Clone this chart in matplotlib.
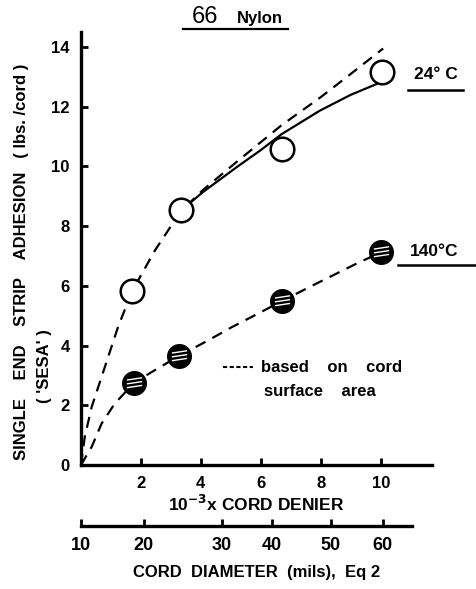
import numpy as np
import matplotlib.pyplot as plt
from matplotlib.path import Path

plt.rcParams['font.family'] = ['Liberation Sans', 'DejaVu Sans']

# measured points
denier_24 = [1.71, 3.33, 6.7, 10.05]
sesa_24 = [5.83, 8.53, 10.57, 13.15]
denier_140 = [1.78, 3.28, 6.7, 10.0]
sesa_140 = [2.76, 3.66, 5.49, 7.12]

# curves
dash24_x = [0.0, 0.13, 0.36, 0.8, 1.24, 1.71, 2.47, 3.33, 4.08, 5.19, 6.69, 7.97, 9.0, 10.08]
dash24_y = [0.0, 0.95, 1.95, 3.29, 4.63, 5.83, 7.19, 8.5, 9.22, 10.15, 11.38, 12.3, 13.1, 13.95]
solid24_x = [3.45, 4.08, 5.2, 6.0, 6.69, 7.97, 9.0, 9.86]
solid24_y = [8.62, 9.15, 9.98, 10.55, 11.08, 11.87, 12.4, 12.76]
dash140_x = [0.0, 0.36, 0.69, 1.13, 1.78, 2.47, 3.28, 4.2, 5.0, 6.0, 6.7, 7.6, 8.4, 9.2, 10.0]
dash140_y = [0.0, 0.61, 1.39, 2.06, 2.76, 3.18, 3.66, 4.15, 4.6, 5.12, 5.49, 5.95, 6.35, 6.75, 7.12]

xticks = [2, 4, 6, 8, 10]
yticks = [0, 2, 4, 6, 8, 10, 12, 14]
diam_labels = ['10', '20', '30', '40', '50', '60']
diam_pos = [0.0, 2.1, 4.7, 6.37, 8.33, 10.07]

fig = plt.figure(figsize=(4.76, 5.89), dpi=100)
ax = fig.add_axes([0.170, 0.2105, 0.737, 0.735])
ax.set_xlim(0, 11.7)
ax.set_ylim(0, 14.5)
for s in ['top', 'right']:
    ax.spines[s].set_visible(False)
for s in ['left', 'bottom']:
    ax.spines[s].set_linewidth(2.4)

dash = (0, (5, 3.5))
ax.plot(dash24_x, dash24_y, color='black', lw=1.6, linestyle=dash, zorder=2)
ax.plot(solid24_x, solid24_y, color='black', lw=1.6, zorder=2)
ax.plot(dash140_x, dash140_y, color='black', lw=1.6, linestyle=dash, zorder=2)

ax.plot(denier_24, sesa_24, 'o', ms=17, mfc='white', mec='black', mew=1.8, zorder=3)
ax.plot(denier_140, sesa_140, 'o', ms=16.5, mfc='black', mec='black', mew=1.5, zorder=3)

# white stripes inside the filled circles
stripe = Path([(-1, -0.55), (1, -0.25), (-1, -0.05), (1, 0.25), (-1, 0.45), (1, 0.75)],
              [Path.MOVETO, Path.LINETO] * 3)
ax.plot(denier_140, sesa_140, linestyle='none', marker=stripe, ms=11, mec='white', mew=1.0, zorder=4)

ax.set_xticks(xticks)
ax.set_yticks(yticks)
ax.tick_params(direction='in', length=5, width=2, labelsize=12, pad=8)
for lab in ax.get_xticklabels() + ax.get_yticklabels():
    lab.set_fontweight('bold')

ax.set_xlabel(r'10$^{\mathbf{-3}}$x CORD DENIER', fontsize=12.5, fontweight='bold', labelpad=2)

# y label, two lines
fig.text(0.046, 0.555, 'SINGLE    END    STRIP    ADHESION   ( lbs. /cord )', rotation=90,
         ha='center', va='center', fontsize=12, fontweight='bold')
fig.text(0.094, 0.378, "( 'SESA' )", rotation=90, ha='center', va='center',
         fontsize=12, fontweight='bold')

# title
fig.text(0.43, 0.971, '66', fontsize=17, ha='center', va='center')
fig.text(0.546, 0.969, 'Nylon', fontsize=12, fontweight='bold', ha='center', va='center')
fig.add_artist(plt.Line2D([0.385, 0.605], [0.951, 0.951], color='black', lw=1.6))

# series labels
fig.text(0.915, 0.873, '24° C', fontsize=12.5, fontweight='bold', ha='center', va='center')
fig.add_artist(plt.Line2D([0.857, 0.972], [0.847, 0.847], color='black', lw=1.8))
fig.text(0.913, 0.573, '140°C', fontsize=12.5, fontweight='bold', ha='center', va='center')
fig.add_artist(plt.Line2D([0.836, 1.0], [0.55, 0.55], color='black', lw=1.8))

# note
ax.plot([4.75, 5.75], [3.27, 3.27], color='black', lw=1.5, linestyle=(0, (2, 1.2)))
ax.text(6.0, 3.27, 'based    on    cord', fontsize=12, fontweight='bold', va='center')
ax.text(6.1, 2.45, 'surface    area', fontsize=12, fontweight='bold', va='center')

# second scale: cord diameter
ax2 = fig.add_axes([0.170, 0.107, 0.737, 0.001])
ax2.set_xlim(0, 11.7)
ax2.set_yticks([])
for s in ['top', 'right', 'left']:
    ax2.spines[s].set_visible(False)
ax2.spines['bottom'].set_linewidth(2.4)
ax2.spines['bottom'].set_bounds(0, 11.05)
ax2.set_xticks(diam_pos)
ax2.set_xticklabels(diam_labels)
ax2.tick_params(direction='in', length=5, width=2, labelsize=13, pad=8)
for lab in ax2.get_xticklabels():
    lab.set_fontweight('bold')
ax2.set_xlabel('CORD  DIAMETER  (mils),  Eq 2', fontsize=12, fontweight='bold', labelpad=8)

fig.savefig('out.png', dpi=100)
